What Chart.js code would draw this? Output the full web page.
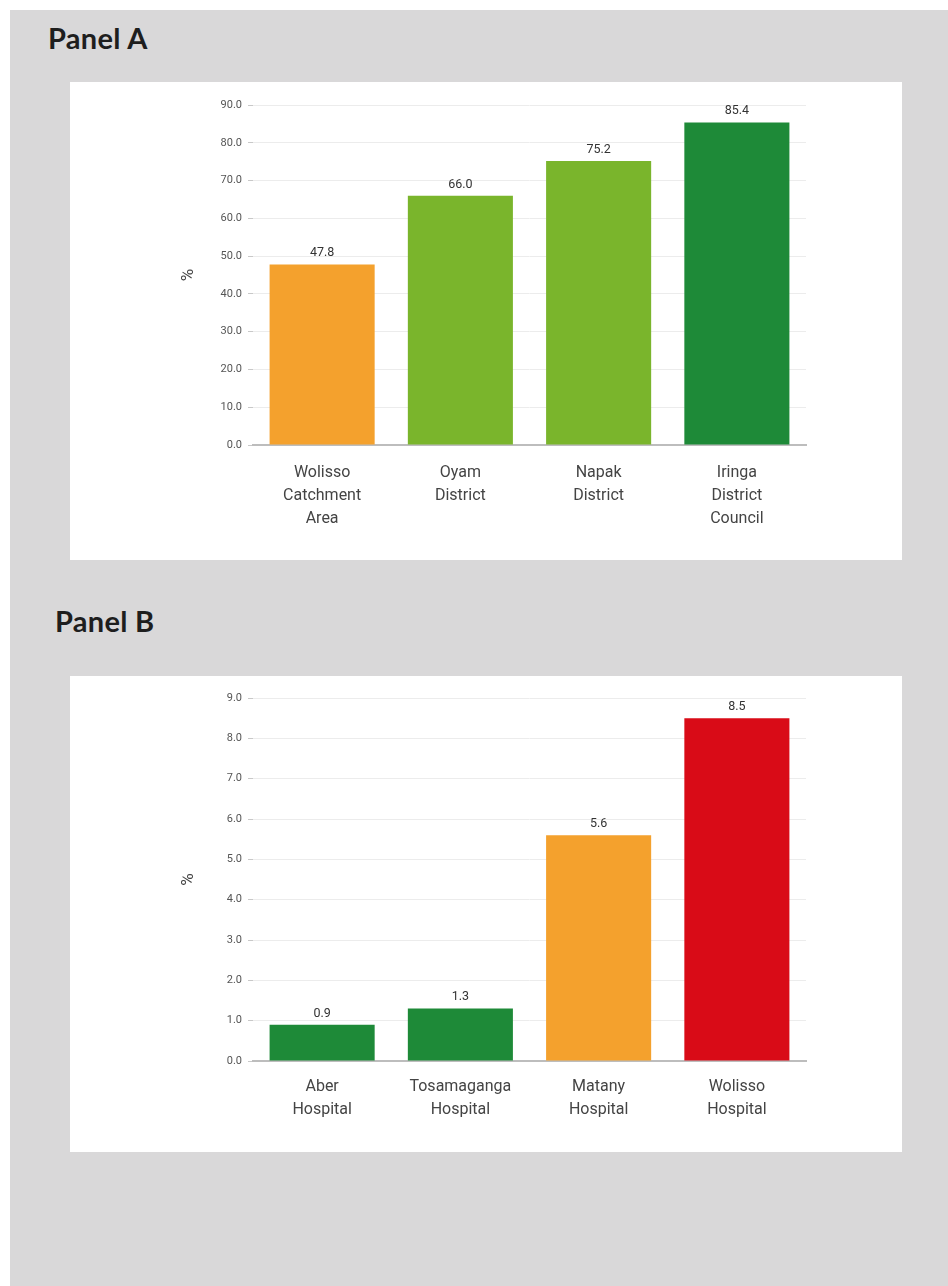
<!DOCTYPE html>
<html>
<head>
<meta charset="utf-8">
<script src="https://cdn.jsdelivr.net/npm/chart.js@4.4.1/dist/chart.umd.min.js"></script>
<style>
  body { margin: 0; background: #fff; width: 948px; height: 1286px; overflow: hidden; }
  .page { position: absolute; left: 10px; top: 10px; width: 938px; height: 1276px; background: #d9d8d9; }
  .title { position: absolute; margin: 0; font-family: Lato, sans-serif; font-weight: 700; font-size: 29px; color: #1e1e1e; letter-spacing: 0.3px; }
  .card { position: absolute; left: 70px; width: 832px; background: #fff; }
</style>
</head>
<body>
<div class="page"></div>
<h2 class="title" style="left:48px; top:20px;">Panel A</h2>
<div class="card" style="top:82px; height:478px;"><canvas id="panelA" width="832" height="478"></canvas></div>
<h2 class="title" style="left:55px; top:603px;">Panel B</h2>
<div class="card" style="top:676px; height:476px;"><canvas id="panelB" width="832" height="476"></canvas></div>
<script>
  const panelACategories = [
    ['Wolisso', 'Catchment', 'Area'],
    ['Oyam', 'District'],
    ['Napak', 'District'],
    ['Iringa', 'District', 'Council']
  ]
  const panelAValues = [47.8, 66.0, 75.2, 85.4]
  const panelAMax = 90
  const panelAStep = 10

  const panelBCategories = [
    ['Aber', 'Hospital'],
    ['Tosamaganga', 'Hospital'],
    ['Matany', 'Hospital'],
    ['Wolisso', 'Hospital']
  ]
  const panelBValues = [0.9, 1.3, 5.6, 8.5]
  const panelBMax = 9
  const panelBStep = 1

  const ORANGE = '#f4a12d'
  const LIGHT_GREEN = '#7ab52c'
  const DARK_GREEN = '#1e8a38'
  const RED = '#d90b17'
  const panelAColors = [ORANGE, LIGHT_GREEN, LIGHT_GREEN, DARK_GREEN]
  const panelBColors = [DARK_GREEN, DARK_GREEN, ORANGE, RED]

  Chart.defaults.font.family = 'Roboto, sans-serif'

  // draws the value above every bar
  const valueLabels = {
    id: 'valueLabels',
    afterDatasetsDraw (chart) {
      const ctx = chart.ctx
      const meta = chart.getDatasetMeta(0)
      const values = chart.data.datasets[0].data
      ctx.save()
      ctx.font = '12.5px Roboto, sans-serif'
      ctx.fillStyle = '#333'
      ctx.textAlign = 'center'
      ctx.textBaseline = 'bottom'
      meta.data.forEach((bar, i) => {
        ctx.fillText(values[i].toFixed(1), bar.x, bar.y - 5)
      })
      ctx.restore()
    }
  }

  function makePanel (id, labels, values, colors, max, step, geom) {
    return new Chart(document.getElementById(id), {
      type: 'bar',
      data: {
        labels,
        datasets: [{
          data: values,
          backgroundColor: colors,
          categoryPercentage: 1,
          barPercentage: 0.76
        }]
      },
      options: {
        responsive: false,
        animation: false,
        layout: {
          padding: { left: 105, right: 96, top: geom.top, bottom: 0 }
        },
        plugins: {
          legend: { display: false },
          tooltip: { enabled: false }
        },
        scales: {
          x: {
            grid: { display: false },
            border: { display: true, color: '#bdbdbd', width: 2 },
            ticks: {
              color: '#444',
              padding: geom.labelPad,
              maxRotation: 0,
              font: { size: 16, lineHeight: 1.45 }
            },
            afterFit: scale => { scale.height = geom.xHeight }
          },
          y: {
            min: 0,
            max: max,
            border: { display: false },
            grid: { color: '#ececec', tickColor: '#c8c8c8', tickLength: 5 },
            ticks: {
              stepSize: step,
              color: '#555',
              padding: 6,
              font: { size: 11 },
              callback: value => value.toFixed(1)
            },
            title: {
              display: true,
              text: '%',
              color: '#444',
              font: { size: 17 }
            },
            afterFit: scale => { scale.width = 78 }
          }
        }
      },
      plugins: [valueLabels]
    })
  }

  makePanel('panelA', panelACategories, panelAValues, panelAColors, panelAMax, panelAStep,
    { top: 23, xHeight: 115, labelPad: 8 })
  makePanel('panelB', panelBCategories, panelBValues, panelBColors, panelBMax, panelBStep,
    { top: 22, xHeight: 91, labelPad: 6 })
</script>
</body>
</html>
